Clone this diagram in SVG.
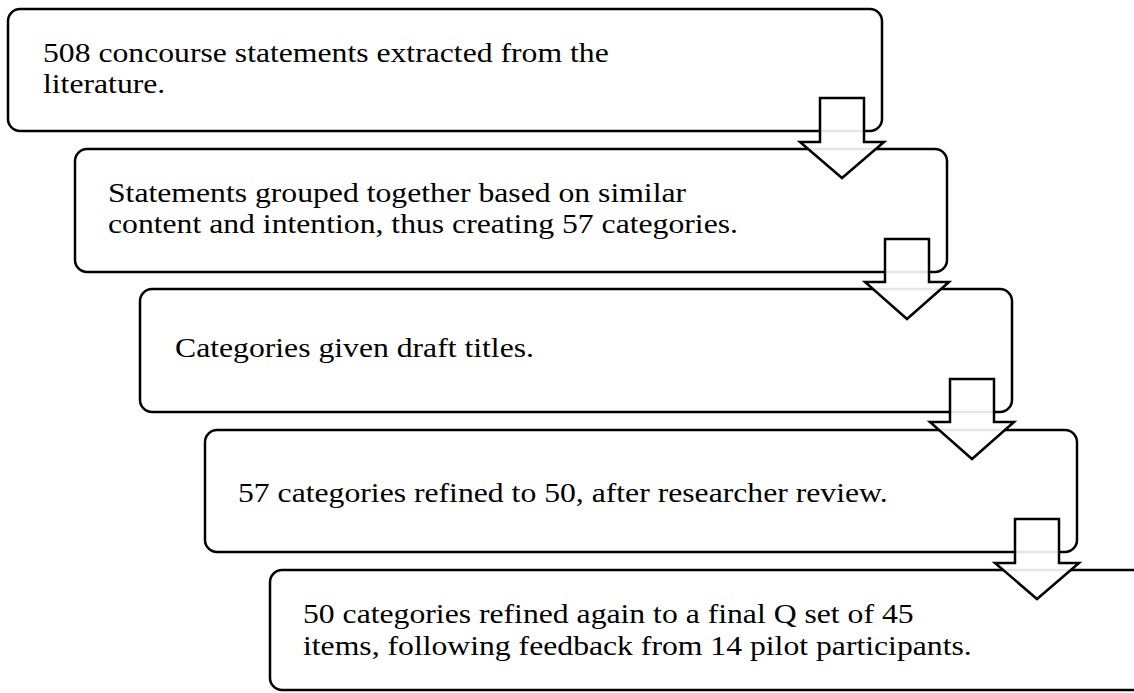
<svg xmlns="http://www.w3.org/2000/svg" width="1134" height="693" viewBox="0 0 1134 693">
<style>
.box{fill:#fff;stroke:#000;stroke-width:2.5}
.arr{fill:#fff;fill-opacity:0.9;stroke:#000;stroke-width:2.5;stroke-linejoin:miter}
.t{font-family:'Liberation Serif','Times New Roman',Times,serif;font-size:27.5px;fill:#000}
</style>
<rect width="1134" height="693" fill="#fff"/>
<g id="node1"><rect class="box" x="8" y="9" width="874" height="122" rx="12"/>
<text class="t" transform="translate(43,62) scale(1.153,1)">508 concourse statements extracted from the</text>
<text class="t" transform="translate(43,93) scale(1.153,1)">literature.</text></g>
<g id="node2"><rect class="box" x="75" y="149" width="872" height="123" rx="12"/>
<text class="t" transform="translate(108,202) scale(1.153,1)">Statements grouped together based on similar</text>
<text class="t" transform="translate(108,233) scale(1.153,1)">content and intention, thus creating 57 categories.</text></g>
<g id="node3"><rect class="box" x="140" y="289" width="872" height="123" rx="12"/>
<text class="t" transform="translate(175,357) scale(1.153,1)">Categories given draft titles.</text></g>
<g id="node4"><rect class="box" x="205" y="430" width="872" height="122" rx="12"/>
<text class="t" transform="translate(238,502) scale(1.153,1)">57 categories refined to 50, after researcher review.</text></g>
<g id="node5"><rect class="box" x="270" y="570" width="880" height="120" rx="12"/>
<text class="t" transform="translate(303,623) scale(1.153,1)">50 categories refined again to a final Q set of 45</text>
<text class="t" transform="translate(303,655) scale(1.153,1)">items, following feedback from 14 pilot participants.</text></g>
<g id="connectors">
<path class="arr" d="M820,98 H864 V142 H884 L842,178 L800,142 H820 Z"/>
<path class="arr" d="M885,239 H929 V282 H949 L907,319 L865,282 H885 Z"/>
<path class="arr" d="M950,379 H994 V422 H1014 L972,459 L930,422 H950 Z"/>
<path class="arr" d="M1015,519 H1059 V563 H1079 L1037,599 L995,563 H1015 Z"/>
</g>
</svg>
